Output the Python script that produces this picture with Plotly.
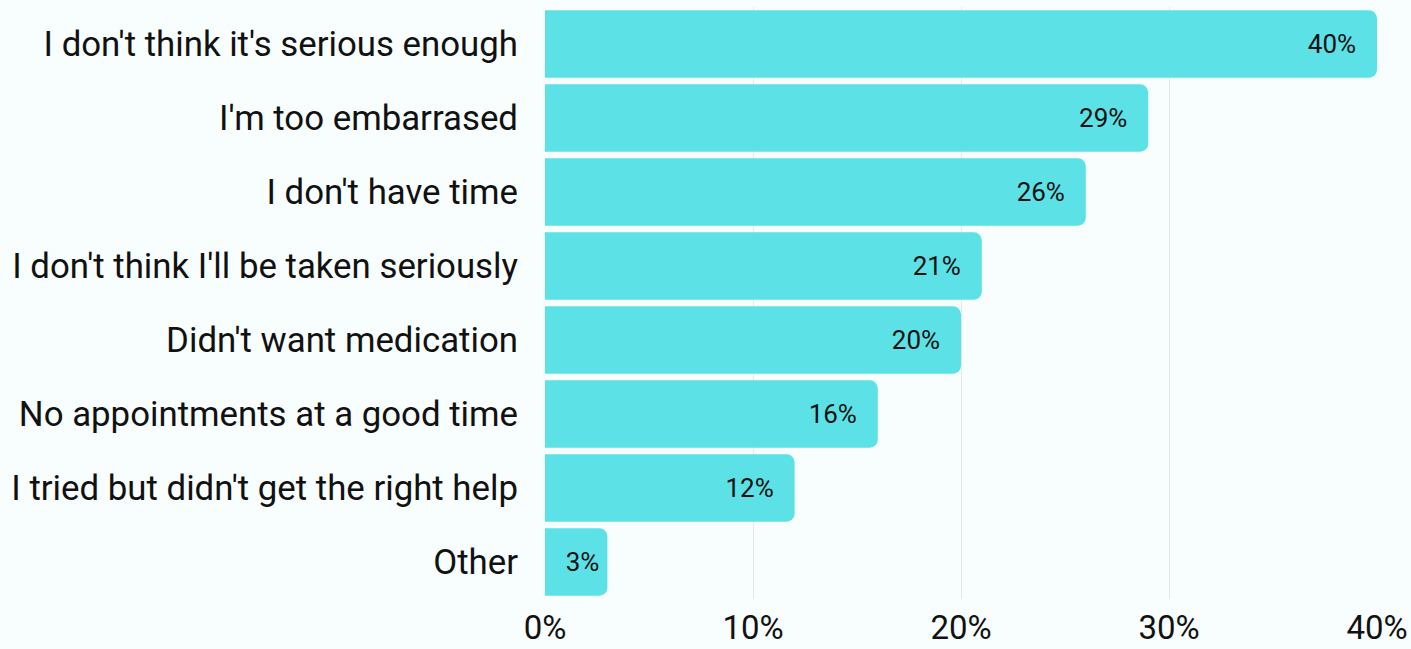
import plotly.graph_objects as go

categories = [
    "I don't think it's serious enough",
    "I'm too embarrased",
    "I don't have time",
    "I don't think I'll be taken seriously",
    "Didn't want medication",
    "No appointments at a good time",
    "I tried but didn't get the right help",
    "Other",
]
values = [40, 29, 26, 21, 20, 16, 12, 3]
tick_vals = [0, 10, 20, 30, 40]
tick_text = ["0%", "10%", "20%", "30%", "40%"]

nb = "\u00a0"
# pad labels away from the bar end when the bar is wide enough
labels = [f"{v}%" + (nb * 2 if v >= 10 else "") for v in values]

fig = go.Figure(go.Bar(
    y=categories,
    x=values,
    orientation="h",
    marker=dict(color="#5CE1E6", line=dict(width=0)),
    text=labels,
    textposition="inside",
    insidetextanchor="end",
    constraintext="none",
    textfont=dict(family="Roboto", size=26, color="#111111"),
    textangle=0,
    hoverinfo="skip",
))

fig.update_layout(
    width=1411,
    height=649,
    margin=dict(l=545, r=34, t=7, b=50),
    paper_bgcolor="#F8FDFE",
    plot_bgcolor="#F8FDFE",
    bargap=0.09,
    barcornerradius=8,
    font=dict(family="Roboto", color="#111111"),
    showlegend=False,
)
fig.update_yaxes(
    autorange="reversed",
    automargin=False,
    tickfont=dict(family="Roboto", size=34.8, color="#111111"),
    ticks="",
    ticklabelstandoff=26,
    showgrid=False,
    zeroline=False,
    showline=False,
)
fig.update_xaxes(
    range=[0, 40],
    automargin=False,
    tickvals=tick_vals,
    ticktext=tick_text,
    tickfont=dict(family="Roboto", size=33, color="#111111"),
    ticks="",
    ticklabelstandoff=6,
    showgrid=True,
    gridcolor="#E4E8E9",
    gridwidth=1,
    zeroline=False,
    showline=False,
)

fig.write_html("out.html")
